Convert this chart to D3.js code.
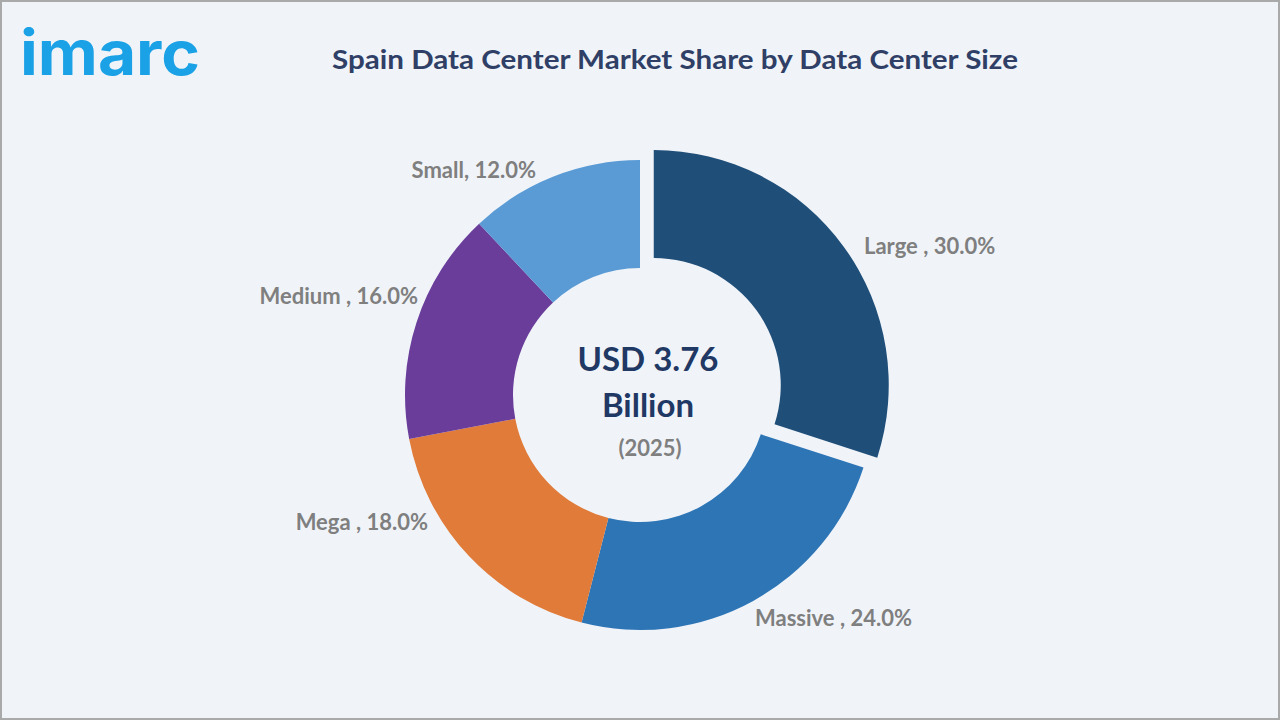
<!DOCTYPE html>
<html><head><meta charset="utf-8">
<script src="https://cdn.jsdelivr.net/npm/d3@7"></script>
<style>html,body{margin:0;padding:0;background:#f0f4f9;}svg{display:block;}</style>
</head><body>
<svg id="chart" width="1280" height="720"></svg>
<script>
const categories = ["Large", "Massive", "Mega", "Medium", "Small"];
const shares = [30.0, 24.0, 18.0, 16.0, 12.0];
const labelText = ["Large , 30.0%", "Massive , 24.0%", "Mega , 18.0%", "Medium , 16.0%", "Small, 12.0%"];
const colors = ["#1f4e79", "#2e75b6", "#e07b39", "#6a3d9a", "#5b9bd5"];
const explode = [17, 0, 0, 0, 0];
const titleText = "Spain Data Center Market Share by Data Center Size";
const centerLines = ["USD 3.76", "Billion", "(2025)"];

// label layout (x, y, anchor)
const labelLayout = [[864, 246, "start"], [755, 618, "start"], [428, 522, "end"], [418, 296, "end"], [536, 170, "end"]];

const W = 1280, H = 720, cx = 640, cy = 395, rOuter = 235, rInner = 127;
const svg = d3.select("#chart");
svg.append("rect").attr("x", 1).attr("y", 1).attr("width", W - 2).attr("height", H - 2)
  .attr("fill", "#f0f4f9").attr("stroke", "#a9a9a9").attr("stroke-width", 2);

// logo
svg.append("text").attr("x", 20).attr("y", 75).text("imarc")
  .attr("font-family", "Inter, Lato, sans-serif").attr("font-weight", 700)
  .attr("font-size", 62).attr("fill", "#1ba1e6")
  .attr("textLength", 180).attr("lengthAdjust", "spacingAndGlyphs");

svg.append("text").attr("x", 675).attr("y", 69).attr("text-anchor", "middle").text(titleText)
  .attr("font-family", "Lato, sans-serif").attr("font-weight", 700).attr("font-size", 26)
  .attr("fill", "#2f3f66").attr("textLength", 686).attr("lengthAdjust", "spacingAndGlyphs");

const pie = d3.pie().value(d => d).sort(null);
const arcs = pie(shares);
const arc = d3.arc().innerRadius(rInner).outerRadius(rOuter);
const g = svg.append("g").attr("transform", `translate(${cx},${cy})`);
g.selectAll("path").data(arcs).join("path")
  .attr("d", arc)
  .attr("fill", (d, i) => colors[i])
  .attr("transform", (d, i) => {
    const a = (d.startAngle + d.endAngle) / 2;
    return `translate(${explode[i] * Math.sin(a)},${-explode[i] * Math.cos(a)})`;
  });

svg.selectAll("text.lbl").data(labelText).join("text").attr("class", "lbl")
  .attr("x", (d, i) => labelLayout[i][0]).attr("y", (d, i) => labelLayout[i][1])
  .attr("text-anchor", (d, i) => labelLayout[i][2]).attr("dy", "0.35em")
  .attr("font-family", "Lato, sans-serif").attr("font-weight", 700).attr("font-size", 22)
  .attr("fill", "#7f7f7f").text(d => d);

svg.append("text").attr("x", 648).attr("y", 371).attr("text-anchor", "middle").text(centerLines[0])
  .attr("font-family", "Lato, sans-serif").attr("font-weight", 700).attr("font-size", 33).attr("fill", "#1f3864");
svg.append("text").attr("x", 648).attr("y", 417).attr("text-anchor", "middle").text(centerLines[1])
  .attr("font-family", "Lato, sans-serif").attr("font-weight", 700).attr("font-size", 33).attr("fill", "#1f3864");
svg.append("text").attr("x", 650).attr("y", 456).attr("text-anchor", "middle").text(centerLines[2])
  .attr("font-family", "Lato, sans-serif").attr("font-weight", 700).attr("font-size", 22).attr("fill", "#7f7f7f");
</script>
</body></html>
